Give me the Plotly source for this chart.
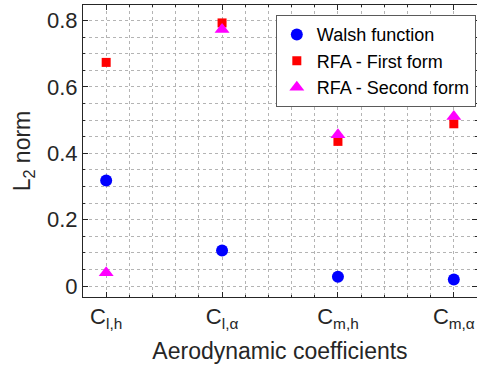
import plotly.graph_objects as go

categories = [1, 2, 3, 4]
tick_labels = ["C<sub>l,h</sub>", "C<sub>l,α</sub>", "C<sub>m,h</sub>", "C<sub>m,α</sub>"]
walsh = [0.318, 0.107, 0.028, 0.020]
rfa_first = [0.674, 0.793, 0.436, 0.489]
rfa_second = [0.040, 0.773, 0.456, 0.511]

FONT = "Liberation Sans, Arial, sans-serif"
AX = "#262626"
GRID = "#b4b4b4"

fig = go.Figure()
fig.add_trace(go.Scatter(x=categories, y=walsh, mode="markers", name="Walsh function",
                         marker=dict(symbol="circle", size=12, color="#0000ff")))
fig.add_trace(go.Scatter(x=categories, y=rfa_first, mode="markers", name="RFA - First form",
                         marker=dict(symbol="square", size=9, color="#ff0000")))
fig.add_trace(go.Scatter(x=categories, y=rfa_second, mode="markers", name="RFA - Second form",
                         marker=dict(symbol="triangle-up", size=13, color="#ff00ff")))

axis_common = dict(showline=True, linecolor=AX, linewidth=1, mirror="ticks",
                   ticks="inside", ticklen=5, tickcolor=AX, zeroline=False,
                   showgrid=True, gridcolor=GRID, griddash="dot", gridwidth=1,
                   tickfont=dict(family=FONT, size=22, color=AX))

fig.update_xaxes(range=[0.8, 4.2], tickmode="array", tickvals=categories, ticktext=tick_labels,
                 minor=dict(tick0=0, dtick=0.2, showgrid=True, gridcolor=GRID, griddash="dot",
                            ticks="inside", ticklen=2, tickcolor=AX),
                 title=dict(text="Aerodynamic coefficients", font=dict(family=FONT, size=23, color=AX),
                            standoff=11),
                 **axis_common)
fig.update_yaxes(range=[-0.033, 0.847], tick0=0, dtick=0.2,
                 minor=dict(tick0=0, dtick=0.05, showgrid=True, gridcolor=GRID, griddash="dot",
                            ticks="inside", ticklen=2, tickcolor=AX),
                 title=dict(text="L<sub>2</sub> norm", font=dict(family=FONT, size=23, color=AX),
                            standoff=9),
                 **axis_common)

fig.update_layout(
    width=477, height=366,
    margin=dict(l=83, r=0, t=5, b=69),
    plot_bgcolor="white", paper_bgcolor="white",
    showlegend=True,
    legend=dict(x=0.997, xanchor="right", y=0.965, yanchor="top",
                bgcolor="white", bordercolor="#5a5a5a", borderwidth=1,
                font=dict(family=FONT, size=18, color="black"),
                tracegroupgap=0, itemwidth=30),
)

fig.write_html("out.html")
